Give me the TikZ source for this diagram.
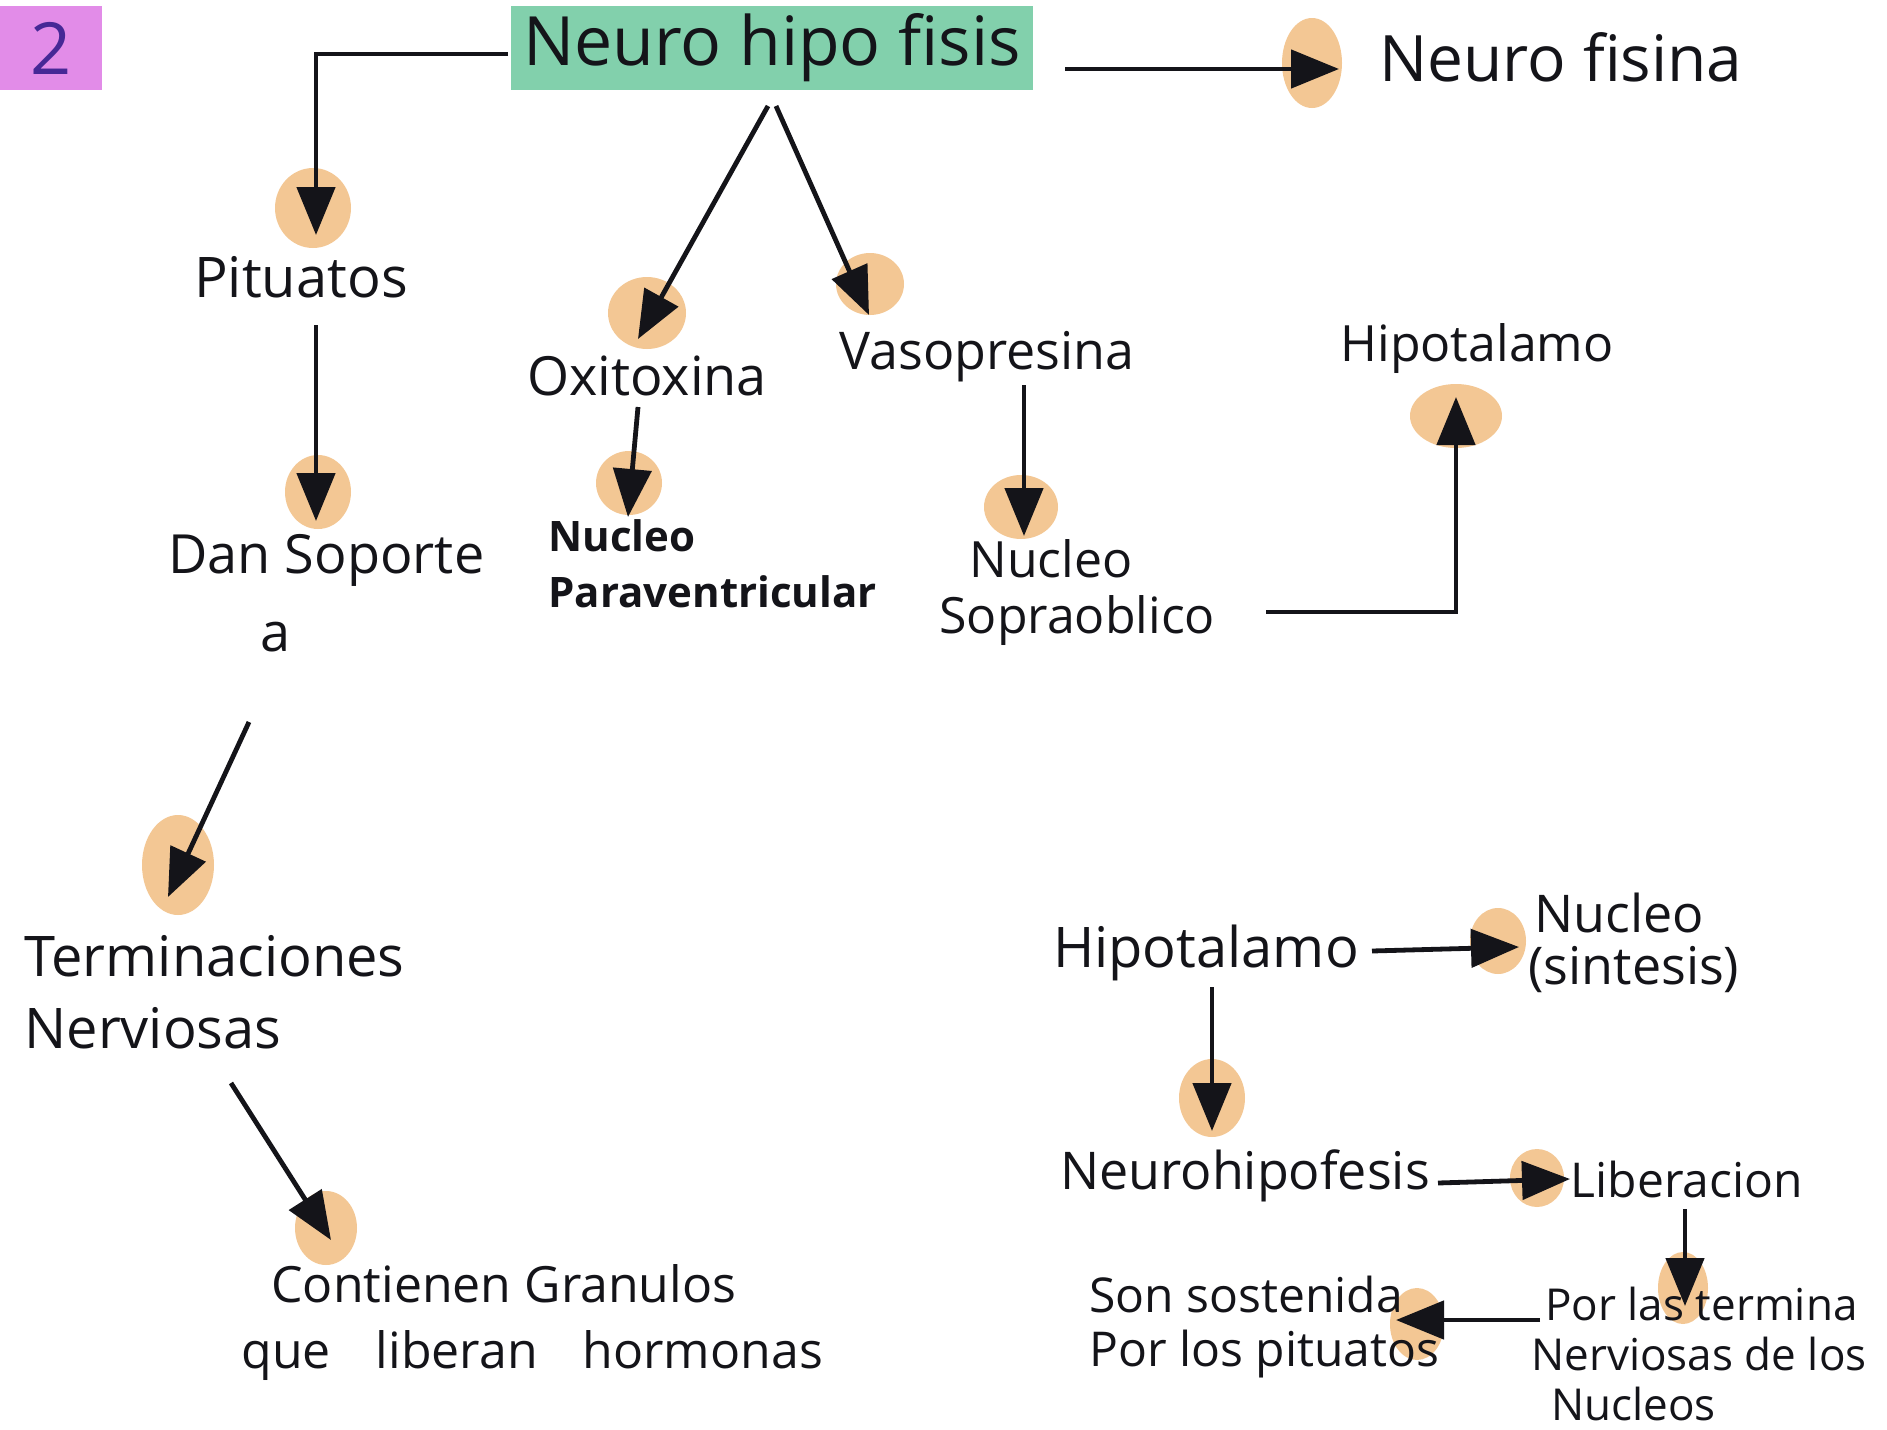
\documentclass[tikz,border=0pt]{standalone}
\usepackage{fontspec}
\setmainfont{Open Sans}
\usetikzlibrary{arrows.meta,calc}
\definecolor{mint}{RGB}{130,208,172}
\definecolor{pinkbox}{RGB}{226,140,232}
\definecolor{twoc}{RGB}{70,40,150}
\definecolor{blob}{RGB}{242,190,130}
\definecolor{ink}{RGB}{20,20,25}
\newcommand\fs[2]{\fontsize{#1}{#2}\selectfont}
\begin{document}
\begin{tikzpicture}[x=0.5pt,y=-0.5pt,
  lbl/.style={inner sep=0pt, text=ink},
  arr/.style={draw=ink, line width=2.4pt, -{Triangle[length=24pt,width=19pt]}},
  blobfill/.style={fill=blob, opacity=.85}]
\useasboundingbox (0,0) rectangle (1887,1430);
\fill[white] (0,0) rectangle (1887,1430);
\clip (0,0) rectangle (1887,1430);
% orange highlights behind arrow tips
\fill[blobfill] (1312,63) ellipse [x radius=30, y radius=45];
\fill[blobfill] (313,208) ellipse [x radius=38, y radius=40];
\fill[blobfill] (318,492) ellipse [x radius=33, y radius=37];
\fill[blobfill] (178,865) ellipse [x radius=36, y radius=50];
\fill[blobfill] (326,1228) ellipse [x radius=31, y radius=37];
\fill[blobfill] (647,313) ellipse [x radius=39, y radius=36];
\fill[blobfill] (870,284) ellipse [x radius=34, y radius=31];
\fill[blobfill] (629,483) ellipse [x radius=33, y radius=32];
\fill[blobfill] (1021,507) ellipse [x radius=37, y radius=32];
\fill[blobfill] (1456,416) ellipse [x radius=46, y radius=32];
\fill[blobfill] (1498,941) ellipse [x radius=28, y radius=33];
\fill[blobfill] (1212,1098) ellipse [x radius=33, y radius=39];
\fill[blobfill] (1537,1178) ellipse [x radius=27, y radius=29];
\fill[blobfill] (1683,1288) ellipse [x radius=25, y radius=36];
\fill[blobfill] (1417,1324) ellipse [x radius=27, y radius=36];
% nodes
\node[fill=pinkbox, minimum width=51pt, minimum height=42pt, inner sep=0pt, text=twoc, font={\fs{36}{40}}] (two) at (51,48) {2};
\node[fill=mint, minimum width=261pt, minimum height=42pt, inner sep=0pt, text=ink, font={\fs{34}{40}}] (nh) at (772,48) {Neuro hipo fisis};
\node[lbl, font={\fs{32}{38}}] (nf) at (1561,57) {Neuro fisina};
\node[lbl, font={\fs{28}{34}}] (pit) at (301,277) {Pituatos};
\node[lbl, anchor=north west, align=left, font={\fs{27}{39}}] (dan) at (168,534) {Dan Soporte\\\hspace{46pt}a};
\node[lbl, anchor=north west, align=left, font={\fs{28}{36}}] (term) at (24,935) {Terminaciones\\Nerviosas};
\node[lbl, anchor=north west, align=left, font={\fs{25}{33}}] (cont) at (271,1264) {Contienen Granulos\\\hspace{-15pt}que\hspace{0.9em}liberan\hspace{0.9em}hormonas};
\node[lbl, font={\fs{27}{32}}] (oxi) at (647,376) {Oxitoxina};
\node[lbl, font={\fs{26}{32}}] (vaso) at (987,357) {Vasopresina};
\node[lbl, anchor=north west, align=left, font={\fs{21}{28}\bfseries}] (npv) at (548,519) {Nucleo\\Paraventricular};
\node[lbl, anchor=north west, align=left, font={\fs{25}{28}}] (nso) at (939,539) {\hspace{15pt}Nucleo\\Sopraoblico};
\node[lbl, font={\fs{25}{30}}] (hip1) at (1477,349) {Hipotalamo};
\node[lbl, font={\fs{28}{34}}] (hip2) at (1206,953) {Hipotalamo};
\node[lbl, anchor=north west, align=left, font={\fs{26}{26}}] (nsin) at (1528,893) {\hspace{3pt}Nucleo\\(sintesis)};
\node[lbl, font={\fs{26}{32}}] (nhb) at (1245,1176) {Neurohipofesis};
\node[lbl, font={\fs{24}{30}}] (lib) at (1687,1179) {Liberacion};
\node[lbl, anchor=north west, align=left, font={\fs{22}{25}}] (por) at (1531,1287) {\hspace{7pt}Por las termina\\Nerviosas de los\\\hspace{10pt}Nucleos};
\node[lbl, anchor=north west, align=left, font={\fs{24}{27}}] (son) at (1089,1276) {Son sostenida\\Por los pituatos};
% connectors
\draw[arr] ($(nh)+(-264,6)$) -| ($(pit)+(15,-42)$);
\draw[arr] ($(nh)+(293,21)$) -- ($(nf)+(-222,12)$);
\draw[arr] ($(pit)+(15,48)$) -- ($(dan.north west)+(148,-13)$);
\draw[arr] ($(dan.north west)+(81,188)$) -- ($(term.north west)+(144,-38)$);
\draw[arr] ($(term.north west)+(207,148)$) -- ($(cont.north west)+(60,-24)$);
\draw[arr] ($(nh)+(-4,58)$) -- ($(oxi)+(-9,-37)$);
\draw[arr] ($(nh)+(4,58)$) -- ($(vaso)+(-118,-42)$);
\draw[arr] ($(oxi)+(-9,31)$) -- ($(npv.north west)+(80,-2)$);
\draw[arr] ($(vaso)+(37,28)$) -- ($(nso.north west)+(85,-3)$);
\draw[arr] ($(nso.north west)+(327,73)$) -| ($(hip1)+(-21,48)$);
\draw[arr] ($(hip2)+(166,-2)$) -- ($(nsin.north west)+(-9,54)$);
\draw[arr] ($(hip2)+(6,34)$) -- ($(nhb)+(-33,-45)$);
\draw[arr] ($(nhb)+(193,7)$) -- ($(lib)+(-117,0)$);
\draw[arr] ($(lib)+(-2,30)$) -- ($(por.north west)+(154,19)$);
\draw[arr] ($(por.north west)+(9,33)$) -- ($(son.north west)+(307,44)$);
\end{tikzpicture}
\end{document}
